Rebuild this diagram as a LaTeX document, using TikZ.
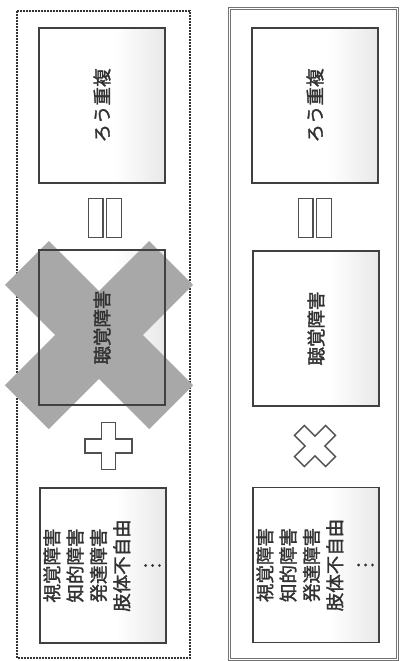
\documentclass[tikz,border=0pt]{standalone}
\usepackage{fontspec}
\newfontfamily\jp[FakeBold=1.6]{Noto Sans CJK JP}
\definecolor{boxc}{RGB}{64,64,64}
\definecolor{txtc}{RGB}{50,50,50}
\definecolor{xg}{RGB}{168,168,168}
\definecolor{symc}{RGB}{80,80,80}
\pgfdeclarehorizontalshading{boxshade}{100bp}{color(0bp)=(white); color(25bp)=(white); color(55bp)=(white); color(75bp)=(black!9); color(100bp)=(black!9)}
\newcommand{\myvdots}{\raisebox{-0.1em}{\rotatebox[origin=c]{90}{…}}}
\begin{document}
\begin{tikzpicture}[x=1pt,y=-1pt,
  box/.style={draw=boxc, line width=1.6pt, shading=boxshade, minimum width=126pt, minimum height=155pt, inner sep=0pt, outer sep=0pt},
  boxline/.style={draw=boxc, line width=1.6pt},
  lbl/.style={text=txtc, font=\jp\fontsize{18.5}{23.3}\selectfont, inner sep=0pt, rotate=90},
  sym/.style={draw=symc, line width=1.5pt, fill=white, line join=miter},
  xsym/.style={fill=xg}]
\useasboundingbox (0,0) rectangle (401,661);
% panels
\draw[draw=black!80, line width=1.6pt, dash pattern=on 1.6pt off 1.4pt] (17,11) rectangle (190,658);
\draw[draw=black!55, double=white, double distance=1.3pt, line width=1.1pt] (229.5,8.5) rectangle (397.5,659.5);
% left column boxes
\node[box] (lt) at (102,105.5) {};
\node[box] (lm) at (102,327.5) {};
\node[box] (lb) at (103,565.5) {};
% right column boxes
\node[box] (rt) at (315,105.5) {};
\node[box] (rm) at (316,328.5) {};
\node[box] (rb) at (316,565) {};
% big gray X over the left middle box
\begin{scope}[shift={(99,335)}, rotate=45]
\fill[xsym] (-31,-102) -- (31,-102) -- (31,-31) -- (102,-31) -- (102,31) -- (31,31) -- (31,102) -- (-31,102) -- (-31,31) -- (-102,31) -- (-102,-31) -- (-31,-31) -- cycle;
\end{scope}
\draw[boxline] (lm.north west) rectangle (lm.south east);
% texts
\node[lbl] (ltT) at (lt.center) {ろう重複};
\node[lbl] (lmT) at (lm.center) {聴覚障害};
\node[lbl, align=center] (lbT) at (lb.center) {視覚障害\\知的障害\\発達障害\\肢体不自由\\\myvdots};
\node[lbl] (rtT) at (rt.center) {ろう重複};
\node[lbl] (rmT) at (rm.center) {聴覚障害};
\node[lbl, align=center] (rbT) at (rb.center) {視覚障害\\知的障害\\発達障害\\肢体不自由\\\myvdots};
% equals signs (rotated)
\draw[sym] (88.5,198.5) rectangle (103,237.5);
\draw[sym] (106.5,198.5) rectangle (121.5,237.5);
\draw[sym] (298.5,198.5) rectangle (313,237.5);
\draw[sym] (316.5,198.5) rectangle (331.5,237.5);
% plus
\begin{scope}[shift={(108.5,446)}]
\draw[sym] (-7,-23.5) -- (7,-23.5) -- (7,-7) -- (23.5,-7) -- (23.5,7) -- (7,7) -- (7,23.5) -- (-7,23.5) -- (-7,7) -- (-23.5,7) -- (-23.5,-7) -- (-7,-7) -- cycle;
\end{scope}
% times
\begin{scope}[shift={(315,446)}, rotate=45]
\draw[sym] (-7,-22) -- (7,-22) -- (7,-7) -- (22,-7) -- (22,7) -- (7,7) -- (7,22) -- (-7,22) -- (-7,7) -- (-22,7) -- (-22,-7) -- (-7,-7) -- cycle;
\end{scope}
\end{tikzpicture}
\end{document}
